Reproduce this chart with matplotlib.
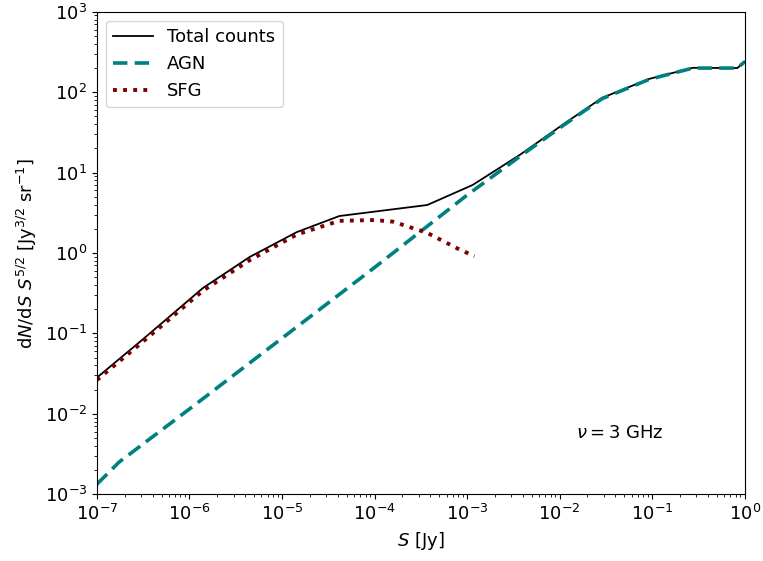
import numpy as np
import matplotlib
matplotlib.use('Agg')
import matplotlib.pyplot as plt

# log10 of flux density S [Jy] and log10 of Euclidean-normalised counts
tot_logS = [-7.0, -6.5, -5.855, -5.35, -4.84, -4.38, -3.43, -2.94,
            -2.43, -1.97, -1.54, -1.03, -0.56, -0.08, 0.0]
tot_logN = [-1.55, -1.07, -0.436, -0.05, 0.26, 0.46, 0.597, 0.846,
            1.22, 1.593, 1.93, 2.166, 2.303, 2.30, 2.378]

agn_logS = [-7.0, -6.76, -6.0, -5.0, -4.0, -3.0, -2.43, -1.97, -1.54, -1.03,
            -0.56, -0.08, 0.0]
agn_logN = [-2.876, -2.60, -1.94, -1.06, -0.18, 0.72, 1.20, 1.58, 1.92, 2.16,
            2.30, 2.30, 2.378]

sfg_logS = [-7.0, -6.5, -5.855, -5.35, -4.84, -4.38, -4.0, -3.8, -3.43,
            -3.11, -2.92]
sfg_logN = [-1.58, -1.10, -0.47, -0.09, 0.23, 0.40, 0.41, 0.39, 0.25,
            0.06, -0.04]

S_tot = 10**np.array(tot_logS)
N_tot = 10**np.array(tot_logN)
S_agn = 10**np.array(agn_logS)
N_agn = 10**np.array(agn_logN)
S_sfg = 10**np.array(sfg_logS)
N_sfg = 10**np.array(sfg_logN)

fig = plt.figure(figsize=(7.63, 5.61), dpi=100)
ax = fig.add_axes([0.127, 0.119, 0.849, 0.860])

ax.plot(S_tot, N_tot, color='black', lw=1.3, label='Total counts')
ax.plot(S_agn, N_agn, color='#008080', lw=2.6, ls=(0, (4, 2)), label='AGN')
ax.plot(S_sfg, N_sfg, color='#800000', lw=2.8, ls=(0, (1, 1.6)), label='SFG')

ax.set_xscale('log')
ax.set_yscale('log')
ax.set_xlim(1e-7, 1)
ax.set_ylim(1e-3, 1e3)
ax.tick_params(labelsize=13)

ax.set_xlabel(r'$S$ [Jy]', fontsize=13)
ax.set_ylabel(r'd$N$/d$S$ $S^{5/2}$ [Jy$^{3/2}$ sr$^{-1}$]', fontsize=13)
ax.text(0.74, 0.127, r'$\nu = 3$ GHz', transform=ax.transAxes,
        fontsize=13, ha='left', va='center')

ax.legend(loc='upper left', fontsize=13, handlelength=2.2)

fig.savefig('out.png', dpi=100)
